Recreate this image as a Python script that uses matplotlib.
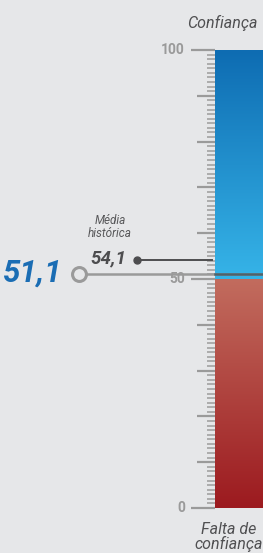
import numpy as np
import matplotlib
matplotlib.use("Agg")
import matplotlib.pyplot as plt
from matplotlib.colors import LinearSegmentedColormap

# Data
value = 51.1
historical_avg = 54.1
scale_min, scale_max = 0, 100
major_labels = [0, 50, 100]
medium_ticks = list(range(0, 101, 10))
minor_ticks = list(range(0, 101, 1))
value_label = "51,1"
avg_label = "54,1"
avg_title = "Média\nhistórica"
top_title = "Confiança"
bottom_title = "Falta de\nconfiança"

W, H = 263, 553
fig = plt.figure(figsize=(W / 100, H / 100), dpi=100)
bg = "#e6e7e9"
fig.patch.set_facecolor(bg)
ax = fig.add_axes([0, 0, 1, 1])
ax.set_facecolor(bg)
px_per_unit = 4.58
top_px = 50
ax.set_xlim(0, W)
ax.set_ylim(scale_max - (H - top_px) / px_per_unit, scale_max + top_px / px_per_unit)
ax.axis("off")

FONT = ["Roboto", "DejaVu Sans"]

# bar gradients
blue = LinearSegmentedColormap.from_list("b", ["#36b4e8", "#0e6cb2"])
red = LinearSegmentedColormap.from_list("r", ["#9c1a1f", "#c26c5e"])
grad = np.linspace(0, 1, 256).reshape(-1, 1)
bar_x0, bar_x1 = 215, 263
ax.imshow(grad, cmap=blue, extent=[bar_x0, bar_x1, 50, scale_max], origin="lower", aspect="auto", zorder=1)
ax.imshow(grad, cmap=red, extent=[bar_x0, bar_x1, scale_min, 50], origin="lower", aspect="auto", zorder=1)

tick_col = "#9a9a9a"
minor = [t for t in minor_ticks if t not in medium_ticks]
med = [t for t in medium_ticks if t not in major_labels]
ax.hlines(minor, 207, bar_x0, color="#acacac", lw=1.4, zorder=2)
ax.hlines(med, 197, bar_x0, color=tick_col, lw=1.6, zorder=2)
ax.hlines(major_labels, 191, bar_x0, color=tick_col, lw=1.6, zorder=2)
for t in major_labels:
    ax.text(185, t, str(t), ha="right", va="center", fontsize=10, fontweight="bold",
            color="#9a9a9a", family=FONT)

# historical average
ax.plot([137, 212], [historical_avg, historical_avg], color="#4d4d4f", lw=1.4, zorder=3)
ax.plot([137], [historical_avg], "o", color="#4d4d4f", ms=5, zorder=3)
ax.text(126, historical_avg + 0.3, avg_label, ha="right", va="center", fontsize=13.5,
        fontweight="bold", style="italic", color="#4d4d4f", family=FONT)
ax.text(110, historical_avg + 7.3, avg_title, ha="center", va="center", fontsize=8.5,
        style="italic", color="#58585a", family=FONT, linespacing=0.95)

# current value
ax.plot([79, W], [value, value], color="#9a9a9a", lw=1.8, zorder=2)
ax.plot([bar_x0, W], [value, value], color="#3d5560", lw=1.8, alpha=0.8, zorder=3)
ax.plot([79], [value], "o", mfc=bg, mec="#9a9a9a", mew=2.2, ms=10, zorder=4)
ax.text(62, value + 0.2, value_label, ha="right", va="center", fontsize=22.5, fontweight="bold",
        style="italic", color="#1a6db4", family=FONT)

# titles
ax.text(222, scale_max + 5.9, top_title, ha="center", va="center", fontsize=11.5,
        style="italic", color="#505052", family=FONT)
ax.text(229, scale_min - 6.4, bottom_title, ha="center", va="center", fontsize=11.5,
        style="italic", color="#505052", family=FONT, linespacing=0.95)

fig.savefig("out.png", dpi=100, facecolor=bg)
